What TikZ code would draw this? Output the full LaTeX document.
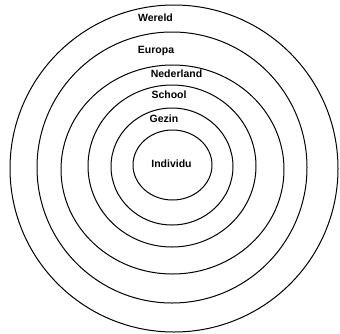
\documentclass[tikz,border=0pt]{standalone}
\usepackage{fontspec}
\setmainfont{Liberation Sans}
\begin{document}
\begin{tikzpicture}[x=1pt,y=-1pt,
  ring/.style={draw=black,line width=1pt},
  lbl/.style={font=\bfseries\fontsize{10.5}{12}\selectfont,inner sep=0pt,anchor=center}]
\useasboundingbox (0,0) rectangle (340,333);
\draw[ring] (174,168.5) ellipse [x radius=164,y radius=163.5];
\draw[ring] (172,167.5) ellipse [x radius=135,y radius=135.5];
\draw[ring] (172.5,169.5) ellipse [x radius=111.5,y radius=104.5];
\draw[ring] (172,166) ellipse [x radius=84,y radius=81];
\draw[ring] (172,166.5) ellipse [x radius=61,y radius=58.5];
\draw[ring] (172.5,165) ellipse [x radius=39.5,y radius=35];
\node[lbl] (wereld) at (155.5,18) {Wereld};
\node[lbl] (europa) at (156,51) {Europa};
\node[lbl] (nederland) at (176.5,74) {Nederland};
\node[lbl] (school) at (169,95) {School};
\node[lbl] (gezin) at (164,119) {Gezin};
\node[lbl] (individu) at (171.5,164) {Individu};
\end{tikzpicture}
\end{document}
